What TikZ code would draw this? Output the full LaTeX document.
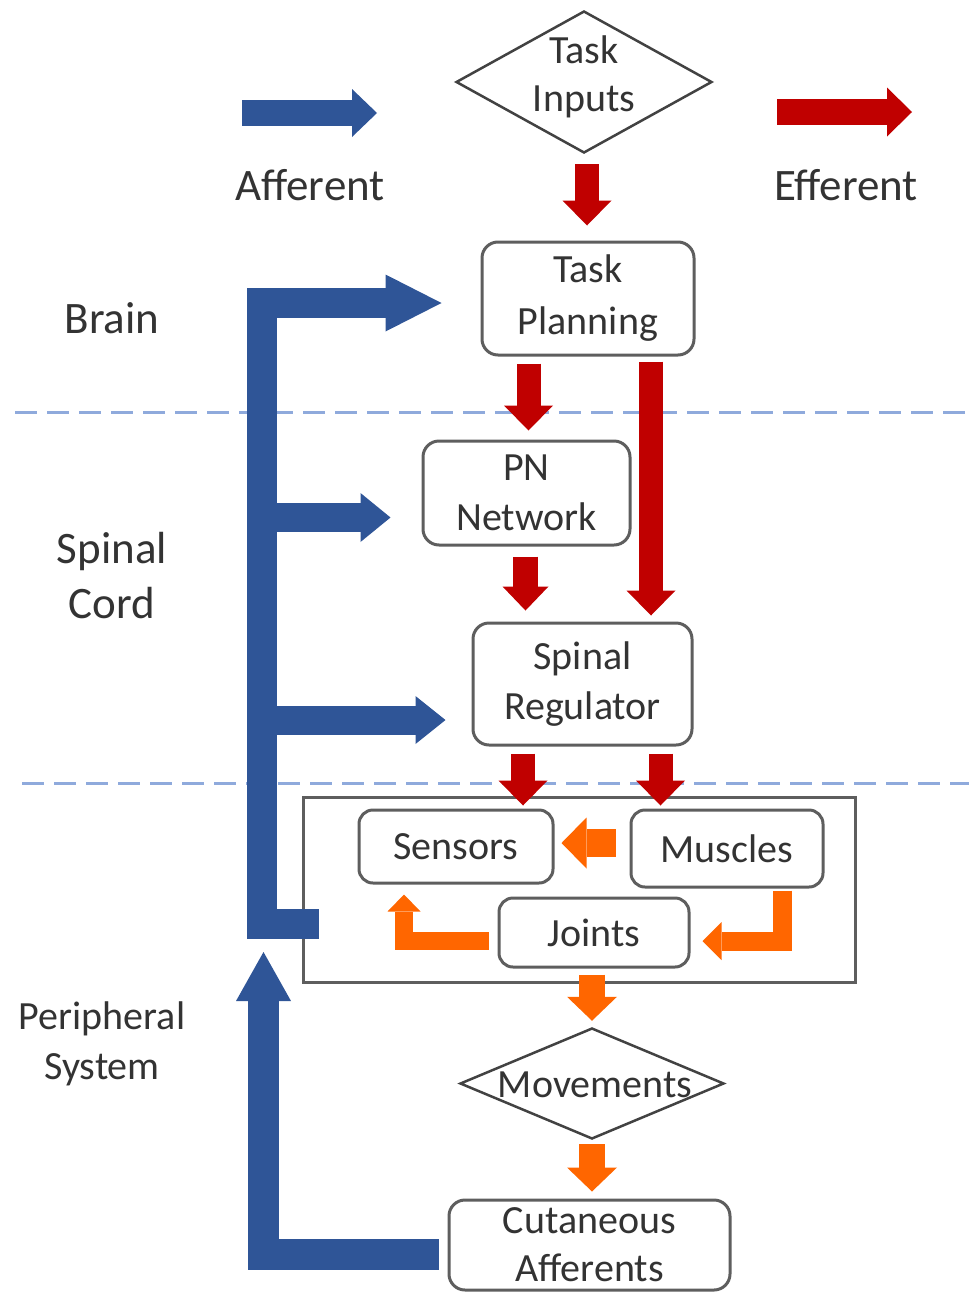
\documentclass[tikz,border=0pt]{standalone}
\usepackage{fontspec}
\setmainfont{Carlito}
\usetikzlibrary{arrows.meta,shapes.geometric,calc}
\definecolor{afblue}{HTML}{2F5597}
\definecolor{efred}{HTML}{C00000}
\definecolor{orng}{HTML}{FF6600}
\definecolor{dashblue}{HTML}{8FAADC}
\definecolor{boxgray}{HTML}{5E5E5E}
\definecolor{txt}{HTML}{333333}
\begin{document}
\begin{tikzpicture}[x=1pt,y=-1pt,
  box/.style={draw=boxgray, fill=white, line width=3pt, rounded corners=16pt, align=center, text=txt,
    font=\fontsize{40}{50}\selectfont, inner sep=0pt},
  lbl/.style={align=center, text=txt, font=\fontsize{45}{55}\selectfont, inner sep=0pt},
  smlbl/.style={align=center, text=txt, font=\fontsize{40}{50}\selectfont, inner sep=0pt},
  dia/.style={draw=boxgray!70!black, line width=2.5pt, shape=diamond, inner sep=0pt},
  divider/.style={draw=dashblue, line width=3pt, dash pattern=on 22pt off 10pt},
  blk/.style n args={4}{draw=#1, line width=#2, line join=miter,
    -{Triangle[length=#3,width=#4,line width=0pt]}},
  redarr/.style={blk={efred}{24pt}{25pt}{49pt}},
  orarr/.style={blk={orng}{26pt}{24pt}{50pt}},
]
\useasboundingbox (0,0) rectangle (969,1293);

% dividers
\coordinate (d1a) at (15,412);  \coordinate (d1b) at (969,412);
\coordinate (d2a) at (22,783);  \coordinate (d2b) at (969,783);
\draw[divider] (d1a) -- (d1b);
\draw[divider] (d2a) -- (d2b);

% legend
\coordinate (la0) at (242,113); \coordinate (la1) at (377,113);
\coordinate (le0) at (777,112); \coordinate (le1) at (912,112);
\draw[blk={afblue}{26pt}{25pt}{48pt}] (la0) -- (la1);
\draw[blk={efred}{26pt}{25pt}{49pt}] (le0) -- (le1);
\node[lbl, anchor=base] (aff) at (310,200) {Afferent};
\node[lbl, anchor=base] (eff) at (846,200) {Efferent};

% side labels
\node[lbl, anchor=base] (brain) at (112,333) {Brain};
\node[lbl] (spcord) at (112,576) {Spinal\\Cord};
\node[smlbl] (periph) at (102,1044) {Peripheral\\System};

% diamonds
\node[dia, minimum width=256pt, minimum height=142pt] (inputs) at (584,82) {};
\node[smlbl, font=\fontsize{40}{48}\selectfont] (inputsT) at (584,77) {Task\\Inputs};
\node[dia, minimum width=264pt, minimum height=111pt] (move) at (592,1083.5) {};
\node[smlbl] (moveT) at (595,1085) {Movements};

% boxes
\node[box, minimum width=212pt, minimum height=113pt, font=\fontsize{40}{52}\selectfont] (plan) at (588,298.5) {Task\\Planning};
\node[box, minimum width=207pt, minimum height=104pt] (pn) at (526.5,493) {PN\\Network};
\node[box, minimum width=219pt, minimum height=122pt] (spinal) at (582.5,684) {Spinal\\Regulator};
\node[draw=boxgray, line width=3pt, minimum width=552pt, minimum height=185pt, inner sep=0pt] (outer) at (579,889.5) {};
\node[box, minimum width=194pt, minimum height=73pt, rounded corners=14pt] (sensors) at (456,846.5) {Sensors};
\node[box, minimum width=192pt, minimum height=77pt, rounded corners=14pt] (muscles) at (727,848.5) {Muscles};
\node[box, minimum width=190pt, minimum height=69pt, rounded corners=14pt] (joints) at (594,932.5) {Joints};
\node[box, minimum width=281pt, minimum height=90pt, font=\fontsize{40}{48}\selectfont] (cut) at (589.5,1245) {Cutaneous\\Afferents};

% red connectors
\coordinate (r1s) at ($(inputs.south)+(3,10)$);
\coordinate (r1e) at ($(plan.north)+(0,-15)$);
\draw[redarr] (r1s) -- (r1s |- r1e);
\coordinate (r2s) at ($(plan.south)+(-59.5,7)$);
\coordinate (r2e) at ($(pn.north)+(0,-9)$);
\draw[redarr] (r2s) -- (r2s |- r2e);
\coordinate (r3s) at ($(plan.south)+(63,5)$);
\coordinate (r3e) at ($(spinal.north)+(0,-6)$);
\draw[redarr] (r3s) -- (r3s |- r3e);
\coordinate (r4s) at ($(pn.south)+(-1,10)$);
\coordinate (r4e) at ($(spinal.north)+(0,-11)$);
\draw[blk={efred}{25pt}{24pt}{46pt}] (r4s) -- (r4s |- r4e);
\coordinate (r5s) at ($(spinal.south)+(-59.5,7)$);
\coordinate (r5e) at ($(sensors.north)+(0,-3)$);
\draw[redarr] (r5s) -- (r5s |- r5e);
\coordinate (r6s) at ($(spinal.south)+(78,7)$);
\coordinate (r6e) at ($(muscles.north)+(0,-3)$);
\draw[redarr] (r6s) -- (r6s |- r6e);

% orange connectors
\coordinate (o1s) at ($(muscles.west)+(-14,-5.5)$);
\coordinate (o1e) at ($(sensors.east)+(7,0)$);
\draw[blk={orng}{28pt}{25pt}{51pt}] (o1s) -- (o1e |- o1s);
\coordinate (o2s) at ($(joints.west)+(-9,8.5)$);
\coordinate (o2e) at ($(sensors.south)+(-52,10)$);
\draw[blk={orng}{18pt}{17pt}{33pt}] (o2s) -- (o2e |- o2s) -- (o2e);
\coordinate (o3s) at ($(muscles.south)+(55.5,2)$);
\coordinate (o3e) at ($(joints.east)+(12,8.5)$);
\draw[blk={orng}{19pt}{19pt}{38pt}] (o3s) -- (o3s |- o3e) -- (o3e);
\coordinate (o4s) at ($(joints.south)+(-2,6)$);
\coordinate (o4e) at ($(move.north)+(0,-6)$);
\draw[orarr] (o4s) -- (o4s |- o4e);
\coordinate (o5s) at ($(move.south)+(0,4)$);
\coordinate (o5e) at ($(cut.north)+(0,-7)$);
\draw[orarr] (o5s) -- (o5s |- o5e);

% blue afferent feedback
\coordinate (spine) at (262,600);
\coordinate (f0) at ($(outer.west)+(17,34)$);
\coordinate (fplan) at ($(plan.west)+(-39,4.5)$);
\coordinate (fpn) at ($(pn.west)+(-31,24.5)$);
\coordinate (fsp) at ($(spinal.west)+(-26,36)$);
\draw[blk={afblue}{30pt}{56pt}{57pt}] (f0) -- (spine |- f0) -- (spine |- fplan) -- (fplan);
\draw[blk={afblue}{29pt}{30pt}{49pt}] (spine |- fpn) -- (fpn);
\draw[blk={afblue}{29pt}{30pt}{48pt}] (spine |- fsp) -- (fsp);
\coordinate (c0) at ($(cut.west)+(-9,9)$);
\coordinate (uptip) at (263.5,952);
\draw[blk={afblue}{31pt}{49pt}{55pt}] (c0) -- (uptip |- c0) -- (uptip);
\end{tikzpicture}
\end{document}
